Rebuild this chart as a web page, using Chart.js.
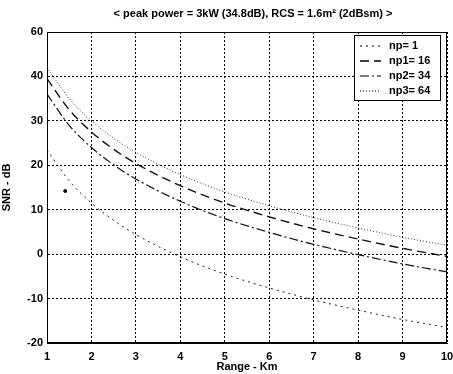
<!DOCTYPE html>
<html>
<head>
<meta charset="utf-8">
<script src="https://cdn.jsdelivr.net/npm/chart.js@4/dist/chart.umd.min.js"></script>
<style>
  body { margin: 0; background: #fff; }
  #wrap { width: 453px; height: 374px; }
</style>
</head>
<body>
<div id="wrap"><canvas id="snrChart" width="453" height="374"></canvas></div>
<script>
// values
let ranges = [1, 1.5, 2, 2.5, 3, 4, 5, 6, 7, 8, 9, 10]
let snrNp1 = [23.5, 16.5, 11.5, 7.6, 4.4, -0.6, -4.5, -7.6, -10.3, -12.6, -14.7, -16.5]
let snrNp16 = [39.5, 32.5, 27.5, 23.6, 20.4, 15.4, 11.5, 8.4, 5.7, 3.4, 1.3, -0.5]
let snrNp34 = [36, 29.0, 24.0, 20.1, 16.9, 11.9, 8.0, 4.9, 2.2, -0.1, -2.2, -4.0]
let snrNp64 = [42, 35.0, 30.0, 26.1, 22.9, 17.9, 14.0, 10.9, 8.2, 5.9, 3.8, 2.0]
let strayDot = [{x: 1.41, y: 14.2}]

let labels = ['np= 1', 'np1= 16', 'np2= 34', 'np3= 64']
let yTickLabels = ['-20', '-10', '0', '10', '20', '30', '40', '60']
let titleText = '< peak power = 3kW (34.8dB), RCS = 1.6m\u00B2 (2dBsm) >'

function pts(vals) {
    return ranges.map((r, i) => ({x: r, y: vals[i]}))
}

let fontFamily = '"Liberation Sans", Arial, sans-serif'

// frame, title and the boxed legend inside the plot
let framePlugin = {
    id: 'frame',
    afterDraw(chart) {
        let ctx = chart.ctx
        let a = chart.chartArea
        ctx.save()
        ctx.strokeStyle = '#000'
        ctx.lineWidth = 1
        ctx.setLineDash([])
        ctx.strokeRect(a.left + 0.5, a.top + 0.5, a.right - a.left - 1, a.bottom - a.top - 1)

        ctx.fillStyle = '#000'
        ctx.font = 'bold 11px ' + fontFamily
        ctx.textAlign = 'center'
        ctx.textBaseline = 'middle'
        ctx.fillText(titleText, (a.left + a.right) / 2 + 6, 14)

        // legend
        let bx = 354, by = 35, bw = 86, bh = 65
        ctx.fillStyle = '#fff'
        ctx.fillRect(bx, by, bw, bh)
        ctx.strokeRect(bx + 0.5, by + 0.5, bw, bh)
        ctx.textAlign = 'left'
        let lineDs = chart.data.datasets.filter(d => d.inLegend)
        lineDs.forEach((d, i) => {
            let y = by + 11 + i * 15
            ctx.strokeStyle = '#000'
            ctx.lineWidth = d.borderWidth
            ctx.setLineDash(d.borderDash)
            ctx.beginPath()
            ctx.moveTo(bx + 6, y)
            ctx.lineTo(bx + 27, y)
            ctx.stroke()
            ctx.setLineDash([])
            ctx.fillStyle = '#000'
            ctx.fillText(d.label, bx + 35, y)
        })
        ctx.restore()
    }
}

new Chart(document.getElementById('snrChart'), {
    type: 'line',
    data: {
        datasets: [{
            label: labels[0],
            data: pts(snrNp1),
            borderColor: '#222',
            borderWidth: 1,
            borderDash: [2, 4],
            inLegend: true
        }, {
            label: labels[1],
            data: pts(snrNp16),
            borderColor: '#111',
            borderWidth: 1.4,
            borderDash: [9, 5],
            inLegend: true
        }, {
            label: labels[2],
            data: pts(snrNp34),
            borderColor: '#111',
            borderWidth: 1.2,
            borderDash: [9, 3, 2, 3],
            inLegend: true
        }, {
            label: labels[3],
            data: pts(snrNp64),
            borderColor: '#333',
            borderWidth: 1,
            borderDash: [1, 2],
            inLegend: true
        }, {
            label: 'dot',
            data: strayDot,
            showLine: false,
            pointRadius: 1.5,
            pointBackgroundColor: '#000',
            borderColor: '#000',
            inLegend: false
        }]
    },
    options: {
        responsive: false,
        animation: false,
        layout: {
            padding: {top: 32, right: 6, left: 0, bottom: 0}
        },
        elements: {
            point: {radius: 0},
            line: {cubicInterpolationMode: 'monotone', fill: false}
        },
        plugins: {
            legend: {display: false},
            title: {display: false},
            tooltip: {enabled: false}
        },
        scales: {
            x: {
                type: 'linear',
                min: 1,
                max: 10,
                afterFit(scale) {
                    scale.height = 31
                    scale.paddingRight = 0
                    scale.paddingLeft = 0
                },
                ticks: {
                    stepSize: 1,
                    color: '#000',
                    font: {family: fontFamily, size: 11, weight: 'bold'},
                    padding: 7,
                    maxRotation: 0
                },
                grid: {
                    color: '#000',
                    lineWidth: 1,
                    drawTicks: false
                },
                border: {display: true, color: '#000', dash: [2, 2]},
                title: {
                    display: true,
                    text: 'Range - Km',
                    color: '#000',
                    font: {family: fontFamily, size: 11, weight: 'bold'},
                    padding: {top: 0, bottom: 0}
                }
            },
            y: {
                min: -20,
                max: 50,
                afterFit(scale) { scale.width = 47 },
                ticks: {
                    stepSize: 10,
                    color: '#000',
                    font: {family: fontFamily, size: 11, weight: 'bold'},
                    padding: 4,
                    callback: (v, i) => yTickLabels[i]
                },
                grid: {
                    color: '#000',
                    lineWidth: 1,
                    drawTicks: false
                },
                border: {display: true, color: '#000', dash: [2, 2]},
                title: {
                    display: true,
                    text: 'SNR - dB',
                    color: '#000',
                    font: {family: fontFamily, size: 11, weight: 'bold'},
                    padding: {top: 0, bottom: 6}
                }
            }
        }
    },
    plugins: [framePlugin]
});
</script>
</body>
</html>
